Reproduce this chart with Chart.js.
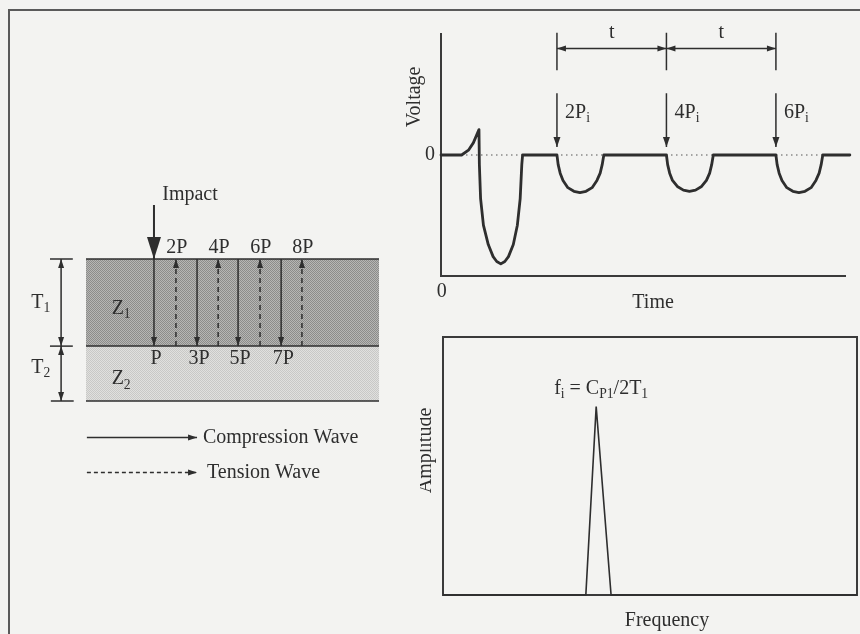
<!DOCTYPE html>
<html>
<head>
  <title>Impact-Echo Response of a Layered Plate</title>
  <script src="https://cdn.jsdelivr.net/npm/chart.js"></script>
  <style>
    body { margin: 0; background: #f3f3f1; }
    #page { position: relative; width: 860px; height: 634px; overflow: hidden; }
    #frame { position: absolute; left: 8px; top: 9px; width: 900px; height: 700px;
             border-top: 2px solid #5a5a5a; border-left: 2px solid #5a5a5a; }
    canvas { position: absolute; }
  </style>
</head>
<body>
<div id="page">
  <div id="frame"></div>
  <canvas id="plateChart" width="430" height="634" style="left:0;top:0"></canvas>
  <canvas id="voltChart" width="460" height="320" style="left:400px;top:0"></canvas>
  <canvas id="freqChart" width="440" height="314" style="left:420px;top:320px"></canvas>
</div>

<script>
  // ---- plate (layer thickness relative to T1, plate width 10 units)
  const layerThick = [1.0, 0.63];          // T1, T2
  const layerNames = ['Z', 'Z'];
  const layerSubs = ['1', '2'];
  const plateWidth = 10;
  const impactX = 2.32;
  const impactTop = -0.62;
  const downArrowX = [2.32, 3.79, 5.19, 6.66];   // compression waves
  const downLabels = ['P', '3P', '5P', '7P'];
  const upArrowX = [3.07, 4.51, 5.94, 7.37];     // tension waves
  const upLabels = ['2P', '4P', '6P', '8P'];

  // ---- voltage vs time (time 0..100, voltage -1..1)
  const timeVals = [0, 5.1, 6.8, 8.0, 9.4, 9.5, 9.8, 10.5, 11.7, 12.9, 13.8, 14.8, 15.8, 16.7, 17.9, 18.9, 19.6, 20.0, 20.2,
                    28.7, 29.0, 29.5, 30.2, 31.4, 32.9, 34.4, 35.9, 37.4, 38.6, 39.4, 39.9, 40.3,
                    55.8, 56.1, 56.6, 57.3, 58.5, 60.0, 61.5, 63.0, 64.5, 65.7, 66.5, 67.0, 67.4,
                    82.9, 83.2, 83.7, 84.4, 85.6, 87.1, 88.6, 90.1, 91.6, 92.8, 93.6, 94.1, 94.5,
                    101.2];
  const voltVals = [0, 0, 0.04, 0.10, 0.21, -0.08, -0.36, -0.58, -0.74, -0.84, -0.88, -0.90, -0.88, -0.84, -0.74, -0.58, -0.36, -0.08, 0,
                    0, -0.08, -0.15, -0.21, -0.27, -0.30, -0.31, -0.30, -0.27, -0.21, -0.15, -0.08, 0,
                    0, -0.08, -0.15, -0.21, -0.26, -0.29, -0.30, -0.29, -0.26, -0.21, -0.15, -0.08, 0,
                    0, -0.08, -0.15, -0.21, -0.27, -0.30, -0.31, -0.30, -0.27, -0.21, -0.15, -0.08, 0,
                    0];
  const reflectTimes = [28.7, 55.8, 82.9];
  const reflectLabels = ['2P', '4P', '6P'];
  const periodLabel = 't';

  // ---- amplitude spectrum (frequency 0..100, amplitude 0..1)
  const freqVals = [0, 34.5, 37.0, 40.6, 100];
  const ampVals = [0, 0, 0.73, 0, 0];

  const INK = '#2e2e2e';
  const FONT = '"Liberation Serif", "DejaVu Serif", serif';

  function drawRich(ctx, segs, x, y, size, align) {
    let w = 0;
    const parts = segs.map(([t, sub]) => {
      const s = sub ? size * 0.68 : size;
      ctx.font = s + 'px ' + FONT;
      const pw = ctx.measureText(t).width;
      w += pw;
      return { t, s, pw, dy: sub ? size * 0.3 : 0 };
    });
    let cx = align === 'center' ? x - w / 2 : (align === 'right' ? x - w : x);
    ctx.textBaseline = 'middle';
    ctx.textAlign = 'left';
    parts.forEach(p => {
      ctx.font = p.s + 'px ' + FONT;
      ctx.fillText(p.t, cx, y + p.dy);
      cx += p.pw;
    });
  }

  // text placed in data units of the chart it belongs to
  function notesPlugin(id, notes) {
    return {
      id: id,
      afterDraw(chart) {
        const { ctx, scales } = chart;
        ctx.save();
        ctx.fillStyle = INK;
        notes.forEach(n => {
          const px = scales.x.getPixelForValue(n.x);
          const py = scales.y.getPixelForValue(n.y);
          if (n.rotate) {
            ctx.save();
            ctx.translate(px, py);
            ctx.rotate(-Math.PI / 2);
            drawRich(ctx, n.segs, 0, 0, n.size || 20, 'center');
            ctx.restore();
          } else {
            drawRich(ctx, n.segs, px, py, n.size || 20, n.align || 'center');
          }
        });
        ctx.restore();
      }
    };
  }

  // filled arrowheads at the ends of flagged datasets
  const arrowHeads = {
    id: 'arrowHeads',
    afterDatasetsDraw(chart) {
      const ctx = chart.ctx;
      chart.data.datasets.forEach((ds, i) => {
        if (!ds.arrowEnd && !ds.arrowStart) return;
        const pts = chart.getDatasetMeta(i).data;
        const n = pts.length;
        const len = ds.headLen || 9, half = (ds.headWidth || 6) / 2;
        const draw = (tip, from) => {
          const a = Math.atan2(tip.y - from.y, tip.x - from.x);
          ctx.save();
          ctx.translate(tip.x, tip.y);
          ctx.rotate(a);
          ctx.beginPath();
          ctx.moveTo(0, 0);
          ctx.lineTo(-len, -half);
          ctx.lineTo(-len, half);
          ctx.closePath();
          ctx.fillStyle = ds.borderColor;
          ctx.fill();
          ctx.restore();
        };
        if (ds.arrowEnd) draw(pts[n - 1], pts[n - 2]);
        if (ds.arrowStart) draw(pts[0], pts[1]);
      });
    }
  };

  function line(points, style) {
    return Object.assign({
      data: points, showLine: true, pointRadius: 0, borderColor: INK, borderWidth: 1.5,
      fill: false, clip: false, tension: 0, order: 0
    }, style);
  }

  function axis(min, max, extra) {
    return Object.assign({
      type: 'linear', min: min, max: max,
      grid: { display: false, drawTicks: false },
      ticks: { display: false },
      border: { display: true, color: '#3a3a3a', width: 2 }
    }, extra);
  }

  const baseOptions = {
    responsive: false,
    animation: false,
    events: [],
    plugins: { legend: { display: false }, tooltip: { enabled: false } }
  };

  function stipple(canvasId, c1, c2) {
    const tile = document.createElement('canvas');
    tile.width = 2; tile.height = 2;
    const g = tile.getContext('2d');
    g.fillStyle = c1; g.fillRect(0, 0, 2, 2);
    g.fillStyle = c2; g.fillRect(0, 0, 1, 1); g.fillRect(1, 1, 1, 1);
    return document.getElementById(canvasId).getContext('2d').createPattern(tile, 'repeat');
  }

  // ================= plate diagram =================
  const T1 = layerThick[0], T2 = layerThick[1];
  const dimX = -0.85;
  const plateSets = [
    // layers go underneath everything else (higher order = drawn first)
    line([{ x: 0, y: T1 }, { x: plateWidth, y: T1 }],
         { order: 10, fill: { value: 0 }, backgroundColor: stipple('plateChart', '#b6b6b4', '#8c8c8a') }),
    line([{ x: 0, y: T1 + T2 }, { x: plateWidth, y: T1 + T2 }],
         { order: 10, fill: { value: T1 }, backgroundColor: stipple('plateChart', '#e0e0de', '#c8c8c6') }),
    line([{ x: 0, y: 0 }, { x: plateWidth, y: 0 }], { order: 5 }),
    // thickness dimensions
    line([{ x: -1.23, y: 0 }, { x: -0.45, y: 0 }]),
    line([{ x: -1.23, y: T1 }, { x: -0.45, y: T1 }]),
    line([{ x: -1.2, y: T1 + T2 }, { x: -0.42, y: T1 + T2 }]),
    line([{ x: dimX, y: 0 }, { x: dimX, y: T1 }], { arrowStart: true, arrowEnd: true, headLen: 9, headWidth: 6 }),
    line([{ x: dimX, y: T1 }, { x: dimX, y: T1 + T2 }], { arrowStart: true, arrowEnd: true, headLen: 9, headWidth: 6 }),
    // impact
    line([{ x: impactX, y: impactTop }, { x: impactX, y: 0 }], { borderWidth: 2, arrowEnd: true, headLen: 22, headWidth: 14 }),
    // legend
    line([{ x: 0.03, y: 2.05 }, { x: 3.79, y: 2.05 }], { arrowEnd: true, headLen: 9, headWidth: 6 }),
    line([{ x: 0.03, y: 2.45 }, { x: 3.79, y: 2.45 }], { borderDash: [4, 3], arrowEnd: true, headLen: 9, headWidth: 6 })
  ];
  downArrowX.forEach(x => plateSets.push(
    line([{ x: x, y: 0 }, { x: x, y: T1 }], { arrowEnd: true, headLen: 9, headWidth: 6 })));
  upArrowX.forEach(x => plateSets.push(
    line([{ x: x, y: T1 }, { x: x, y: 0 }], { borderDash: [5, 4], arrowEnd: true, headLen: 9, headWidth: 6 })));

  const plateNotes = [
    { segs: [['Impact']], x: 3.55, y: -0.74 },
    { segs: [['T'], ['1', 1]], x: -1.54, y: 0.5 },
    { segs: [['T'], ['2', 1]], x: -1.54, y: 1.25 },
    { segs: [[layerNames[0]], [layerSubs[0], 1]], x: 1.2, y: 0.57 },
    { segs: [[layerNames[1]], [layerSubs[1], 1]], x: 1.2, y: 1.38 },
    { segs: [['Compression Wave']], x: 3.99, y: 2.05, align: 'left' },
    { segs: [['Tension Wave']], x: 4.13, y: 2.45, align: 'left' }
  ];
  upLabels.forEach((t, i) => plateNotes.push({ segs: [[t]], x: upArrowX[i] + 0.03, y: -0.13 }));
  downLabels.forEach((t, i) => plateNotes.push({ segs: [[t]], x: downArrowX[i] + 0.07, y: 1.14 }));

  new Chart(document.getElementById('plateChart'), {
    type: 'scatter',
    data: { datasets: plateSets },
    options: Object.assign({}, baseOptions, {
      layout: { padding: { left: 86, right: 51, top: 259, bottom: 233 } },
      scales: {
        x: { type: 'linear', min: 0, max: plateWidth, display: false },
        y: { type: 'linear', min: 0, max: T1 + T2, reverse: true, display: false }
      }
    }),
    plugins: [arrowHeads, notesPlugin('plateNotes', plateNotes)]
  });

  // ================= voltage vs time =================
  const voltSets = [
    line([{ x: 0, y: 0 }, { x: 101.2, y: 0 }], { order: 5, borderColor: '#555', borderWidth: 1.2, borderDash: [1.5, 3.5] }),
    line(timeVals.map((t, i) => ({ x: t, y: voltVals[i] })),
         { borderWidth: 2.8, borderJoinStyle: 'round', borderCapStyle: 'round' })
  ];
  reflectTimes.forEach(t => {
    voltSets.push(line([{ x: t, y: 0.51 }, { x: t, y: 0.066 }], { arrowEnd: true, headLen: 10, headWidth: 7 }));
    voltSets.push(line([{ x: t, y: 1.01 }, { x: t, y: 0.70 }]));
  });
  for (let i = 0; i < reflectTimes.length - 1; i++) {
    voltSets.push(line([{ x: reflectTimes[i], y: 0.88 }, { x: reflectTimes[i + 1], y: 0.88 }],
                       { arrowStart: true, arrowEnd: true, headLen: 9, headWidth: 6 }));
  }

  const voltNotes = [
    { segs: [['Voltage']], x: -6.4, y: 0.48, rotate: true },
    { segs: [['0']], x: -2.7, y: 0 },
    { segs: [['0']], x: 0.2, y: -1.13 },
    { segs: [['Time']], x: 52.5, y: -1.22 }
  ];
  reflectLabels.forEach((t, i) => voltNotes.push({ segs: [[t], ['i', 1]], x: reflectTimes[i] + 2.0, y: 0.35, align: 'left' }));
  for (let i = 0; i < reflectTimes.length - 1; i++) {
    voltNotes.push({ segs: [[periodLabel]], x: (reflectTimes[i] + reflectTimes[i + 1]) / 2, y: 1.01 });
  }

  new Chart(document.getElementById('voltChart'), {
    type: 'scatter',
    data: { datasets: voltSets },
    options: Object.assign({}, baseOptions, {
      layout: { padding: { left: 41, right: 15, top: 34, bottom: 44 } },
      scales: {
        x: axis(0, 100, { position: 'bottom' }),
        y: axis(-1, 1, { position: 'left' })
      }
    }),
    plugins: [arrowHeads, notesPlugin('voltNotes', voltNotes)]
  });

  // ================= amplitude spectrum =================
  const freqNotes = [
    { segs: [['f'], ['i', 1], [' = C'], ['P1', 1], ['/2T'], ['1', 1]], x: 38.2, y: 0.80 },
    { segs: [['Amplitude']], x: -4.1, y: 0.56, rotate: true },
    { segs: [['Frequency']], x: 54.1, y: -0.10 }
  ];

  new Chart(document.getElementById('freqChart'), {
    type: 'scatter',
    data: {
      datasets: [line(freqVals.map((f, i) => ({ x: f, y: ampVals[i] })), { borderWidth: 1.6 })]
    },
    options: Object.assign({}, baseOptions, {
      layout: { padding: { left: 23, right: 3, top: 17, bottom: 39 } },
      scales: {
        x: axis(0, 100, { position: 'bottom' }),
        y: axis(0, 1, { position: 'left' }),
        xTop: axis(0, 100, { position: 'top', axis: 'x' }),
        yRight: axis(0, 1, { position: 'right', axis: 'y' })
      }
    }),
    plugins: [notesPlugin('freqNotes', freqNotes)]
  });
</script>
</body>
</html>
